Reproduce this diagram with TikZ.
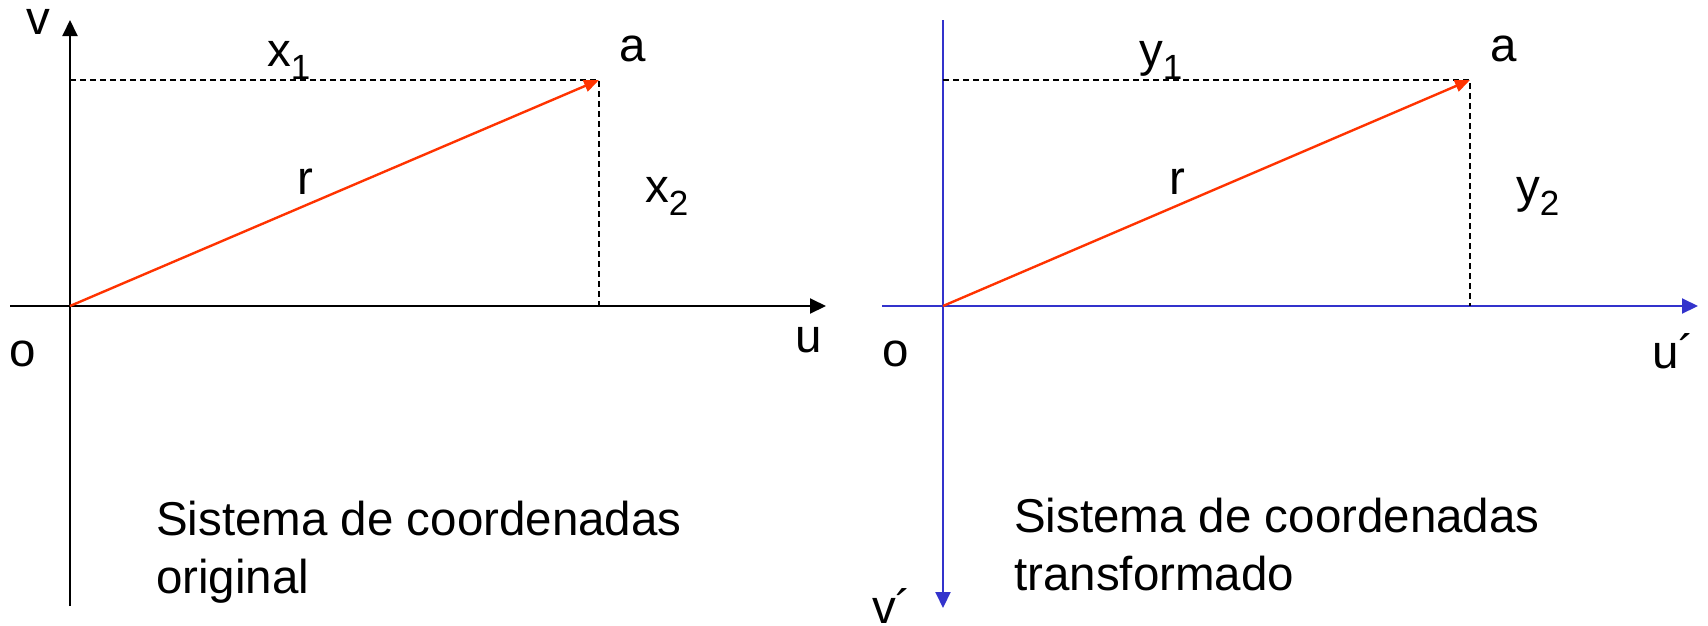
\documentclass[tikz,border=0pt]{standalone}
\usepackage{fontspec}
\setmainfont{Liberation Sans}
\usetikzlibrary{arrows.meta}
\definecolor{axisblue}{RGB}{51,51,204}
\definecolor{vecred}{RGB}{255,51,0}
\newcommand{\mysub}[1]{\raisebox{-13pt}{\fontsize{35}{35}\selectfont #1}}
\begin{document}
\begin{tikzpicture}[x=1pt,y=-1pt,
  lbl/.style={anchor=base west,inner sep=0pt,font=\fontsize{47.5}{55}\selectfont},
  caption/.style={anchor=base west,inner sep=0pt,align=left,font=\fontsize{47.5}{57.5}\selectfont},
  axisline/.style={line width=2pt,-{Triangle[length=16pt,width=15pt]}},
  proj/.style={line width=1.3pt,dash pattern=on 6pt off 4pt},
  vec/.style={vecred,line width=2.4pt,-{Triangle[length=15pt,width=12pt]}}]
\useasboundingbox (0,0) rectangle (1708,625);
% ---------- left system ----------
\coordinate (Lo) at (70,306);
\coordinate (Lvtop) at (70,20);
\coordinate (Lvbot) at (70,606);
\coordinate (Luleft) at (10,306);
\coordinate (Luright) at (826,306);
\coordinate (La) at (599,80);
\coordinate (Lax) at (70,80);
\coordinate (Lau) at (599,306);
\draw[axisline] (Lvbot) -- (Lvtop);
\draw[axisline] (Luleft) -- (Luright);
\draw[proj] (Lax) -- (La) -- (Lau);
\draw[vec] (Lo) -- (La);
\node[lbl] (Lv) at (26,34) {v};
\node[lbl] (Lx1) at (267,66) {x\mysub{1}};
\node[lbl] (Laname) at (619,61) {a};
\node[lbl] (Lr) at (297,194) {r};
\node[lbl] (Lx2) at (645,202) {x\mysub{2}};
\node[lbl] (Loname) at (9,366) {o};
\node[lbl] (Lu) at (795,352) {u};
\node[caption] (Ltext) at (156,593) {Sistema de coordenadas\\original};
% ---------- right system ----------
\coordinate (Ro) at (943,306);
\coordinate (Rvtop) at (943,20);
\coordinate (Rvbot) at (943,608);
\coordinate (Ruleft) at (882,306);
\coordinate (Ruright) at (1698,306);
\coordinate (Ra) at (1470,80);
\coordinate (Rax) at (943,80);
\coordinate (Rau) at (1470,306);
\draw[axisline,axisblue] (Rvtop) -- (Rvbot);
\draw[axisline,axisblue] (Ruleft) -- (Ruright);
\draw[proj] (Rax) -- (Ra) -- (Rau);
\draw[vec] (Ro) -- (Ra);
\node[lbl] (Ry1) at (1139,66) {y\mysub{1}};
\node[lbl] (Raname) at (1490,61) {a};
\node[lbl] (Rr) at (1169,194) {r};
\node[lbl] (Ry2) at (1516,202) {y\mysub{2}};
\node[lbl] (Roname) at (882,366) {o};
\node[lbl] (Ru) at (1652,368) {u´};
\node[lbl] (Rv) at (872,623) {v´};
\node[caption] (Rtext) at (1014,590) {Sistema de coordenadas\\transformado};
\end{tikzpicture}
\end{document}
